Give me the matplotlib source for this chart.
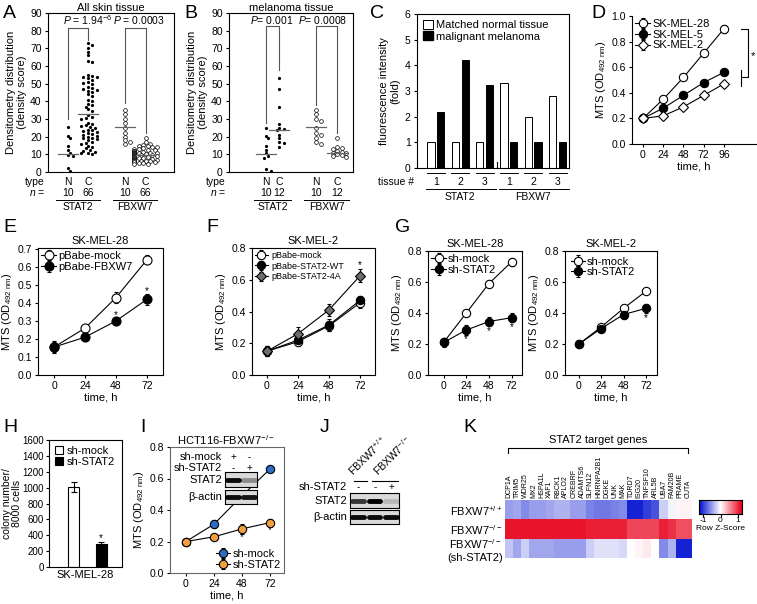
import numpy as np
import matplotlib
matplotlib.use("Agg")
import matplotlib.pyplot as plt
from matplotlib.colors import LinearSegmentedColormap
from matplotlib.patches import Patch
from matplotlib import font_manager

plt.rcParams['font.family'] = ['Liberation Sans', 'DejaVu Sans']
plt.rcParams['mathtext.fontset'] = 'custom'
plt.rcParams['mathtext.rm'] = 'Liberation Sans'
plt.rcParams['mathtext.it'] = 'Liberation Sans:italic'
plt.rcParams['font.size'] = 7.5
plt.rcParams['axes.linewidth'] = 0.8
plt.rcParams['xtick.major.size'] = 2.5
plt.rcParams['ytick.major.size'] = 2.5
plt.rcParams['xtick.major.pad'] = 2
plt.rcParams['ytick.major.pad'] = 2

# narrow font for the gene names, if there is one
installed = {f.name for f in font_manager.fontManager.ttflist}
gene_font = 'Liberation Sans Narrow' if 'Liberation Sans Narrow' in installed else 'Liberation Sans'
gene_size = 5.6 if gene_font == 'Liberation Sans Narrow' else 5.0

# ---------------- data ----------------
# A: all skin tissue (density score)
a_stat2_n = [25.5, 20.5, 19, 15, 12.5, 11, 9.5, 9, 2, 0.5]
a_stat2_c = [73, 72, 70, 68, 66, 63, 62, 55, 54.5, 54, 53.5, 53, 52, 51, 50.5, 50,
             48, 47.5, 47, 46.5, 46, 45, 44, 43, 41, 40, 38.5, 38, 37, 35.5, 34.5,
             32, 31, 30.5, 30, 28, 27, 26.5, 26, 25.5, 25, 24, 23.5, 23, 22.5, 22,
             21.5, 21, 20.5, 20, 19.5, 19, 18.5, 18, 17, 16.5, 16, 15, 14, 13.5,
             12.5, 12, 11.5, 11, 10.5, 10]
a_fbxw7_n = [35, 33, 30, 28, 25, 22, 20, 18, 17, 16]
a_fbxw7_c = [19, 17, 16, 15.5, 15, 14.5, 14, 14, 13.5, 13, 13, 12.5, 12.5, 12, 12, 12,
             11.5, 11.5, 11, 11, 11, 11, 10.5, 10.5, 10.5, 10, 10, 10, 10, 10,
             9.5, 9.5, 9.5, 9.5, 9, 9, 9, 9, 9, 8.5, 8.5, 8.5, 8.5, 8, 8, 8, 8,
             7.5, 7.5, 7.5, 7, 7, 7, 7, 6.5, 6.5, 6.5, 6, 6, 6, 5.5, 5.5, 5, 5, 4.5, 4.5]
a_centre = [10, 33, 25.5, 9.5]
a_n = ['10', '66', '10', '66']
a_p = ['$P$ = 1.94$^{-6}$', '$P$ = 0.0003']

# B: melanoma tissue
b_stat2_n = [25, 20.5, 19, 15, 12.5, 10.5, 9, 8, 1.5, 0.5]
b_stat2_c = [53, 47, 37, 27, 25, 24.5, 23.5, 21, 19, 17, 16.5, 14]
b_fbxw7_n = [35, 33, 30, 29, 25, 22, 21, 19, 17, 16]
b_fbxw7_c = [19, 14, 13.5, 13, 12, 11.5, 11, 10.5, 10, 9.5, 9, 8.5]
b_centre = [10, 23.5, 25.5, 11]
b_n = ['10', '12', '10', '12']
b_p = ['$P$= 0.001', '$P$= 0.0008']

types = ['N', 'C', 'N', 'C']
genes_ab = ['STAT2', 'FBXW7']

# C: fluorescence intensity
c_tissue = ['1', '2', '3', '1', '2', '3']
c_normal = [1, 1, 1, 3.3, 1.97, 2.8]
c_melanoma = [2.2, 4.2, 3.25, 1, 1, 1]

# D
time_d = [0, 24, 48, 72, 96]
d_mel28 = [0.20, 0.35, 0.52, 0.71, 0.90]
d_mel28_err = [0.01, 0.015, 0.015, 0.015, 0.03]
d_mel5 = [0.20, 0.28, 0.38, 0.48, 0.56]
d_mel5_err = [0.01, 0.02, 0.02, 0.02, 0.02]
d_mel2 = [0.20, 0.22, 0.29, 0.38, 0.47]
d_mel2_err = [0.01, 0.02, 0.02, 0.02, 0.025]

time_h = [0, 24, 48, 72]
# E
e_mock = [0.155, 0.26, 0.43, 0.64]
e_mock_err = [0.03, 0.02, 0.03, 0.025]
e_fbxw7 = [0.155, 0.21, 0.30, 0.42]
e_fbxw7_err = [0.035, 0.02, 0.02, 0.03]
# F
f_mock = [0.15, 0.21, 0.31, 0.455]
f_mock_err = [0.03, 0.03, 0.03, 0.03]
f_wt = [0.15, 0.22, 0.315, 0.47]
f_wt_err = [0.03, 0.03, 0.04, 0.03]
f_4a = [0.15, 0.26, 0.41, 0.625]
f_4a_err = [0.03, 0.04, 0.04, 0.04]
# G
g1_mock = [0.21, 0.40, 0.59, 0.73]
g1_mock_err = [0.02, 0.02, 0.02, 0.025]
g1_sh = [0.21, 0.29, 0.345, 0.37]
g1_sh_err = [0.03, 0.03, 0.03, 0.03]
g2_mock = [0.20, 0.31, 0.43, 0.54]
g2_mock_err = [0.015, 0.02, 0.02, 0.02]
g2_sh = [0.20, 0.30, 0.39, 0.43]
g2_sh_err = [0.015, 0.02, 0.03, 0.03]

# H
h_groups = ['sh-mock', 'sh-STAT2']
h_vals = [1010, 285]
h_err = [60, 35]

# I
i_mock = [0.20, 0.31, 0.49, 0.66]
i_mock_err = [0.01, 0.025, 0.02, 0.02]
i_sh = [0.20, 0.23, 0.28, 0.32]
i_sh_err = [0.01, 0.02, 0.03, 0.025]
i_blot_stat2 = [0.95, 0.35]
i_blot_actin = [0.95, 0.9]

# J
j_blot_stat2 = [0.75, 1.0, 0.15]
j_blot_actin = [0.95, 0.95, 0.95]
j_sh = ['-', '-', '+']

# K
k_genes = ['DCP1A', 'TRIM5', 'WDR25', 'MX2', 'HSPA1L', 'XAF1', 'RBCK1', 'APLO2',
           'CREBRF', 'ADAMTS6', 'SLFN12', 'HNRNPA2B1', 'DGKE', 'UNK', 'MAK', 'TDRD7',
           'ISG20', 'TNFSF10', 'ARL5B', 'UBA7', 'FAM20B', 'PRAME', 'CUTA']
k_wt = [-0.5, -0.45, -0.6, -0.5, -0.5, -0.45, -0.4, -0.4, -0.5, -0.5, -0.65, -0.7,
        -0.7, -0.65, -0.6, -1.15, -1.15, -1.0, -0.9, -0.25, -0.05, 0.05, 0.05]
k_ko = [1.15, 1.15, 1.15, 1.15, 1.15, 1.15, 1.15, 1.15, 1.15, 1.15, 1.1, 1.1,
        1.1, 1.1, 1.1, 0.9, 0.9, 0.9, 0.9, 1.1, 1.0, 0.85, 0.85]
k_ko_sh = [-0.3, -0.45, -0.25, -0.45, -0.45, -0.45, -0.5, -0.5, -0.5, -0.5, -0.25,
           -0.15, -0.15, -0.15, -0.2, 0.0, 0.05, 0.1, 0.0, -0.6, -0.4, -1.15, -1.15]
k_rows = ['FBXW7$^{+/+}$', 'FBXW7$^{-/-}$', 'FBXW7$^{-/-}$\n(sh-STAT2)']

# ---------------- figure ----------------
W, H = 757, 604
fig = plt.figure(figsize=(W / 100, H / 100), dpi=100)


def add_ax(x0, y0, x1, y1):
    return fig.add_axes([x0 / W, 1 - y1 / H, (x1 - x0) / W, (y1 - y0) / H])


def ftext(x, y, s, **kw):
    kw.setdefault('ha', 'center')
    kw.setdefault('va', 'center')
    return fig.text(x / W, 1 - y / H, s, **kw)


def fline(xs, ys, **kw):
    fig.add_artist(plt.Line2D([x / W for x in xs], [1 - y / H for y in ys],
                              color='k', lw=0.8, **kw))


def letter(x, y, s):
    ftext(x, y, s, fontsize=14, ha='left')


def swarm(vals, ypx, dpx, xunit):
    placed = []
    offs = []
    for v in vals:
        for k in [0, 1, -1, 2, -2, 3, -3, 4, -4, 5, -5]:
            x = k * dpx * 0.75
            if all((x - px) ** 2 + ((v - pv) * ypx) ** 2 >= dpx ** 2 for px, pv in placed):
                break
        placed.append((x, v))
        offs.append(x / xunit)
    return offs


mts_label = 'MTS (OD$_{\\mathrm{492\\ nm}}$)'


def density_panel(ax, groups, pos, centre, ns, pvals, ppos, brk, top, bot, xunit):
    ypx = (bot - top) / 90.0
    for i, vals in enumerate(groups):
        offs = swarm(vals, ypx, 3.0, xunit)
        xs = [pos[i] + o for o in offs]
        if i < 2:
            ax.plot(xs, vals, 'o', ms=2.3, color='k', mew=0, zorder=3)
        else:
            ax.plot(xs, vals, 'o', ms=2.7, mfc='white', mec='k', mew=0.5, zorder=3)
        ax.plot([pos[i] - 0.5, pos[i] + 0.5], [centre[i], centre[i]], color='#666666', lw=0.9, zorder=4)
    for j in range(2):
        xl, xr = pos[2 * j], pos[2 * j + 1]
        yt, yl, yr = brk[j]
        ax.plot([xl, xl, xr, xr], [yl, yt, yt, yr], color='#555555', lw=0.8)
        ax.text(ppos[j], 86, pvals[j], ha='center', va='center', fontsize=7.5)
    ax.set_ylim(0, 90)
    ax.set_yticks(range(0, 91, 10))
    ax.set_xticks([])
    ax.set_ylabel('Densitometry distribution\n(density score)', fontsize=8, labelpad=2)
    tr = ax.get_xaxis_transform()
    h = bot - top
    for i in range(4):
        ax.text(pos[i], (bot - 182) / h, types[i], transform=tr, ha='center', va='center', fontsize=7.5)
        ax.text(pos[i], (bot - 192.5) / h, ns[i], transform=tr, ha='center', va='center', fontsize=7.5)
    for j in range(2):
        xl, xr = pos[2 * j] - 0.6, pos[2 * j + 1] + 0.6
        ax.plot([xl, xr], [(bot - 199.5) / h] * 2, transform=tr, color='k', lw=0.7, clip_on=False)
        ax.text((xl + xr) / 2, (bot - 207) / h, genes_ab[j], transform=tr, ha='center', va='center', fontsize=7.5)


# ---- A ----
letter(3, 13, 'A')
axA = add_ax(48, 13, 174, 172)
posA = [0, 1, 2.9, 3.95]
axA.set_xlim(-1.03, 5.4)
density_panel(axA, [a_stat2_n, a_stat2_c, a_fbxw7_n, a_fbxw7_c], posA, a_centre, a_n,
              a_p, [0.97, 3.6], [(81.5, 30, 75), (81.5, 39, 22)], 13, 172, 19.5)
axA.set_title('All skin tissue', fontsize=8, pad=1.5)
ftext(45, 182, 'type', ha='right', fontsize=7.5)
ftext(45, 192.5, '$n$ =', ha='right', fontsize=7.5)

# ---- B ----
letter(184, 13, 'B')
axB = add_ax(229, 13, 353, 172)
posB = [0, 0.65, 2.5, 3.55]
axB.set_xlim(-1.85, 4.35)
density_panel(axB, [b_stat2_n, b_stat2_c, b_fbxw7_n, b_fbxw7_c], posB, b_centre, b_n,
              b_p, [0.3, 2.85], [(82.5, 28, 58), (82.5, 38, 22)], 13, 172, 20)
axB.set_title('melanoma tissue', fontsize=8, pad=1.5)
ftext(226, 182, 'type', ha='right', fontsize=7.5)
ftext(226, 192.5, '$n$ =', ha='right', fontsize=7.5)

# ---- C ----
letter(370, 13, 'C')
axC = add_ax(417, 14, 569, 168)
xc = np.arange(len(c_tissue))
axC.bar(xc - 0.2, c_normal, 0.3, color='white', edgecolor='k', lw=0.7)
axC.bar(xc + 0.2, c_melanoma, 0.3, color='black', edgecolor='k', lw=0.7)
axC.plot([2.5, 2.5], [0, 0.25], color='k', lw=0.8)
axC.set_xlim(-0.78, 5.47)
axC.set_ylim(0, 6)
axC.set_yticks(range(7))
axC.set_xticks([])
axC.set_ylabel('fluorescence intensity\n(fold)', fontsize=8, labelpad=3)
axC.legend(handles=[Patch(fc='white', ec='k', lw=0.7, label='Matched normal tissue'),
                    Patch(fc='black', ec='k', label='malignant melanoma')],
           loc='upper left', frameon=False, fontsize=8, handlelength=0.9, handleheight=0.9,
           handletextpad=0.3, labelspacing=0.1, borderaxespad=0.3, borderpad=0.2)
trC = axC.get_xaxis_transform()
hC = 168 - 14
for i, t in enumerate(c_tissue):
    axC.plot([i - 0.37, i + 0.37], [(168 - 173) / hC] * 2, transform=trC, color='k', lw=0.7, clip_on=False)
    axC.text(i, (168 - 182) / hC, t, transform=trC, ha='center', va='center', fontsize=7.5)
for j, g in enumerate(genes_ab):
    axC.plot([3 * j - 0.4, 3 * j + 2.45], [(168 - 189) / hC] * 2, transform=trC, color='k', lw=0.7, clip_on=False)
    axC.text(3 * j + 1, (168 - 197) / hC, g, transform=trC, ha='center', va='center', fontsize=7.5)
ftext(414, 182, 'tissue #', ha='right', fontsize=7.5)


def line_style(ax, ylim, yticks, xlim, box=True):
    ax.set_xlim(*xlim)
    ax.set_ylim(*ylim)
    ax.set_yticks(yticks)
    ax.set_xticks(time_h)
    ax.set_ylabel(mts_label, fontsize=8, labelpad=2)
    ax.set_xlabel('time, h', fontsize=8, labelpad=1)
    if not box:
        ax.spines['top'].set_visible(False)
        ax.spines['right'].set_visible(False)


def series(ax, t, y, e, **kw):
    ax.errorbar(t, y, yerr=e, color='k', lw=0.8, elinewidth=0.8, capsize=1.5, capthick=0.8,
                mec='k', mew=0.8, **kw)


# ---- D ----
letter(591, 13, 'D')
axD = add_ax(632, 16, 756, 144)
series(axD, time_d, d_mel28, d_mel28_err, marker='o', ms=6, mfc='white', label='SK-MEL-28', zorder=3)
series(axD, time_d, d_mel5, d_mel5_err, marker='o', ms=6, mfc='black', label='SK-MEL-5', zorder=3)
series(axD, time_d, d_mel2, d_mel2_err, marker='D', ms=5, mfc='white', label='SK-MEL-2', zorder=3)
line_style(axD, (0, 1.0), np.arange(0, 1.01, 0.2), (-13, 134), box=False)
axD.set_xticks(time_d)
axD.set_yticklabels(['0.0', '0.2', '0.4', '0.6', '0.8', '1.0'])
axD.plot([116, 125, 125, 116], [0.9, 0.9, 0.52, 0.52], color='k', lw=0.8)
axD.plot([116, 116], [0.45, 0.58], color='k', lw=0.8)
axD.text(130, 0.69, '*', ha='center', va='center', fontsize=8)
axD.legend(loc='upper left', frameon=False, fontsize=8, handlelength=1.3, handletextpad=0.2,
           labelspacing=0.05, borderaxespad=0.2, borderpad=0.1)

# ---- E ----
letter(3, 228, 'E')
axE = add_ax(38, 248, 163, 375)
series(axE, time_h, e_mock, e_mock_err, marker='o', ms=6.5, mfc='white', label='pBabe-mock', zorder=3)
series(axE, time_h, e_fbxw7, e_fbxw7_err, marker='o', ms=6.5, mfc='black', label='pBabe-FBXW7', zorder=3)
line_style(axE, (0, 0.705), np.arange(0, 0.71, 0.1), (-12.4, 84.4))
axE.set_yticklabels(['0.0', '0.1', '0.2', '0.3', '0.4', '0.5', '0.6', '0.7'])
axE.set_title('SK-MEL-28', fontsize=8, pad=3)
for t, y, e in zip(time_h[2:], e_fbxw7[2:], e_fbxw7_err[2:]):
    axE.text(t, y + e + 0.015, '*', ha='center', va='center', fontsize=7)
axE.legend(loc='upper left', frameon=False, fontsize=8, handlelength=1.3, handletextpad=0.2,
           labelspacing=0.05, borderaxespad=0.2, borderpad=0.1)

# ---- F ----
letter(206, 228, 'F')
axF = add_ax(252, 248, 375, 375)
series(axF, time_h, f_mock, f_mock_err, marker='o', ms=6, mfc='white', label='pBabe-mock', zorder=3)
series(axF, time_h, f_wt, f_wt_err, marker='o', ms=6, mfc='black', label='pBabe-STAT2-WT', zorder=3)
series(axF, time_h, f_4a, f_4a_err, marker='D', ms=5.5, mfc='#6e6e6e', label='pBabe-STAT2-4A', zorder=4)
line_style(axF, (0, 0.8), [0.0, 0.2, 0.4, 0.6, 0.8], (-11.6, 83.6))
axF.set_yticklabels(['0.0', '0.2', '0.4', '0.6', '0.8'])
axF.set_title('SK-MEL-2', fontsize=8, pad=3)
axF.text(72, f_4a[3] + f_4a_err[3] + 0.025, '*', ha='center', va='center', fontsize=7)
axF.legend(loc='upper left', frameon=False, fontsize=6.5, handlelength=1.5, handletextpad=0.3,
           labelspacing=0.2, borderaxespad=0.2, borderpad=0.1)

# ---- G ----
letter(395, 228, 'G')
axG1 = add_ax(428, 251, 522, 375)
series(axG1, time_h, g1_mock, g1_mock_err, marker='o', ms=6, mfc='white', label='sh-mock', zorder=3)
series(axG1, time_h, g1_sh, g1_sh_err, marker='o', ms=6, mfc='black', label='sh-STAT2', zorder=3)
line_style(axG1, (0, 0.8), [0.0, 0.2, 0.4, 0.6, 0.8], (-16.5, 83))
axG1.set_yticklabels(['0.0', '0.2', '0.4', '0.6', '0.8'])
axG1.set_title('SK-MEL-28', fontsize=8, pad=3)
for t, y, e in zip(time_h[1:], g1_sh[1:], g1_sh_err[1:]):
    axG1.text(t, y - e - 0.03, '*', ha='center', va='center', fontsize=7)
axG1.legend(loc='upper left', frameon=False, fontsize=8, handlelength=1.3, handletextpad=0.2,
            labelspacing=0.05, borderaxespad=0.2, borderpad=0.1)

axG2 = add_ax(565, 251, 657, 375)
series(axG2, time_h, g2_mock, g2_mock_err, marker='o', ms=6, mfc='white', label='sh-mock', zorder=3)
series(axG2, time_h, g2_sh, g2_sh_err, marker='o', ms=6, mfc='black', label='sh-STAT2', zorder=3)
line_style(axG2, (0, 0.8), [0.0, 0.2, 0.4, 0.6, 0.8], (-15, 84))
axG2.set_yticklabels(['0.0', '0.2', '0.4', '0.6', '0.8'])
axG2.set_title('SK-MEL-2', fontsize=8, pad=3)
axG2.text(72, g2_sh[3] - g2_sh_err[3] - 0.03, '*', ha='center', va='center', fontsize=7)
axG2.legend(loc='upper left', frameon=False, fontsize=8, handlelength=1.3, handletextpad=0.2,
            labelspacing=0.05, borderaxespad=0.3, borderpad=0.2)

# ---- H ----
letter(3, 428, 'H')
axH = add_ax(49, 440, 122, 567)
axH.bar([0], [h_vals[0]], 0.4, yerr=[h_err[0]], color='white', edgecolor='k', lw=0.8,
        error_kw=dict(elinewidth=0.8, capsize=2, capthick=0.8), label=h_groups[0])
axH.bar([1], [h_vals[1]], 0.4, yerr=[h_err[1]], color='black', edgecolor='k', lw=0.8,
        error_kw=dict(elinewidth=0.8, capsize=2, capthick=0.8), label=h_groups[1])
axH.text(1, h_vals[1] + h_err[1] + 40, '*', ha='center', va='center', fontsize=7)
axH.set_xlim(-0.89, 1.76)
axH.set_ylim(0, 1600)
axH.set_yticks(range(0, 1601, 200))
axH.set_xticks([])
axH.tick_params(axis='y', labelsize=7, pad=1)
axH.set_xlabel('SK-MEL-28', fontsize=8, labelpad=2)
axH.set_ylabel('colony number/\n8000 cells', fontsize=7.5, linespacing=1.0)
axH.yaxis.set_label_coords(-0.37, 0.5)
axH.legend(loc='upper left', frameon=False, fontsize=8, handlelength=0.8, handleheight=0.8,
           handletextpad=0.3, labelspacing=0.1, borderaxespad=0.3, borderpad=0.2)

# ---- I ----
letter(140, 428, 'I')
axI = add_ax(170, 447, 284, 573)
series(axI, time_h, i_mock, i_mock_err, marker='o', ms=6, mfc='#2b6cc4', label='sh-mock', zorder=3)
series(axI, time_h, i_sh, i_sh_err, marker='o', ms=6, mfc='#f0a040', label='sh-STAT2', zorder=3)
line_style(axI, (0, 0.8), [0.0, 0.2, 0.4, 0.6, 0.8], (-13.7, 84))
axI.set_yticklabels(['0.0', '0.2', '0.4', '0.6', '0.8'])
for sp in axI.spines.values():
    sp.set_color('#666666')
for t, y, e in zip(time_h[2:], i_sh[2:], i_sh_err[2:]):
    axI.text(t, y - e - 0.025, '*', ha='center', va='center', fontsize=7)
axI.legend(loc='lower right', frameon=False, fontsize=8, handlelength=1.3, handletextpad=0.2,
           labelspacing=0.05, borderaxespad=0.2, borderpad=0.1)
ftext(226, 440, 'HCT116-FBXW7$^{-/-}$', fontsize=8)


def blot(rect, levels):
    ax = add_ax(*rect)
    ax.set_facecolor('#d9d9d9')
    n = len(levels)
    for i, lv in enumerate(levels):
        ax.plot([i + 0.15, i + 0.85], [0.5, 0.5], color='k', lw=3.5, alpha=lv,
                solid_capstyle='round')
    ax.set_xlim(0, n)
    ax.set_ylim(0, 1)
    ax.set_xticks([])
    ax.set_yticks([])
    ax.set_zorder(5)
    return ax


blot((225, 472, 257, 487), i_blot_stat2)
blot((225, 490, 257, 504), i_blot_actin)
ftext(222, 457, 'sh-mock', ha='right', fontsize=8)
ftext(222, 468, 'sh-STAT2', ha='right', fontsize=8)
ftext(222, 480, 'STAT2', ha='right', fontsize=8)
ftext(222, 497, 'β-actin', ha='right', fontsize=8)
for x, a, b in zip([233, 249], ['+', '-'], ['-', '+']):
    ftext(x, 457, a, fontsize=7)
    ftext(x, 468, b, fontsize=7)

# ---- J ----
letter(320, 428, 'J')
blot((350, 493, 399, 508), j_blot_stat2)
blot((350, 510, 399, 524), j_blot_actin)
ftext(347, 487, 'sh-STAT2', ha='right', fontsize=8)
ftext(347, 501, 'STAT2', ha='right', fontsize=8)
ftext(347, 517, 'β-actin', ha='right', fontsize=8)
for x, s in zip([358, 375, 391], j_sh):
    ftext(x, 487, s, fontsize=7)
fline([354, 367], [481, 481])
fline([372, 398], [481, 481])
ftext(355, 478, 'FBXW7$^{+/+}$', ha='left', va='bottom', rotation=45, fontsize=7.5,
      rotation_mode='anchor')
ftext(380, 478, 'FBXW7$^{-/-}$', ha='left', va='bottom', rotation=45, fontsize=7.5,
      rotation_mode='anchor')

# ---- K ----
letter(463, 428, 'K')
axK = add_ax(505, 500, 692, 558)
cmap = LinearSegmentedColormap.from_list('bwr2', ['#0010d0', '#ffffff', '#e8001a'])
im = axK.imshow(np.array([k_wt, k_ko, k_ko_sh]), cmap=cmap, vmin=-1.25, vmax=1.25, aspect='auto')
axK.set_xticks(range(len(k_genes)))
axK.set_xticklabels(k_genes, rotation=90, fontsize=gene_size, family=gene_font)
axK.xaxis.tick_top()
axK.set_yticks(range(3))
axK.set_yticklabels(k_rows, fontsize=8, multialignment='center')
axK.tick_params(length=0, pad=1.5)
for sp in axK.spines.values():
    sp.set_visible(False)
trK = axK.get_xaxis_transform()
axK.plot([-0.1, -0.1, 22.0, 22.0], [1.81, 1.895, 1.895, 1.81], transform=trK, color='k',
         lw=0.8, clip_on=False)
axK.text(11, 2.03, 'STAT2 target genes', transform=trK, ha='center', va='center', fontsize=8)

axCb = add_ax(699, 500, 742, 514)
axCb.imshow(np.linspace(-1.25, 1.25, 100)[None, :], cmap=cmap, aspect='auto',
            extent=[-1.25, 1.25, 0, 1])
axCb.set_yticks([])
axCb.set_xticks([-1, 0, 1])
axCb.set_xticklabels(['-1', '0', '1'], fontsize=6)
axCb.tick_params(length=2, pad=0.5)
axCb.set_xlabel('Row Z-Score', fontsize=6, labelpad=0.5)

fig.savefig('out.png', dpi=100)
